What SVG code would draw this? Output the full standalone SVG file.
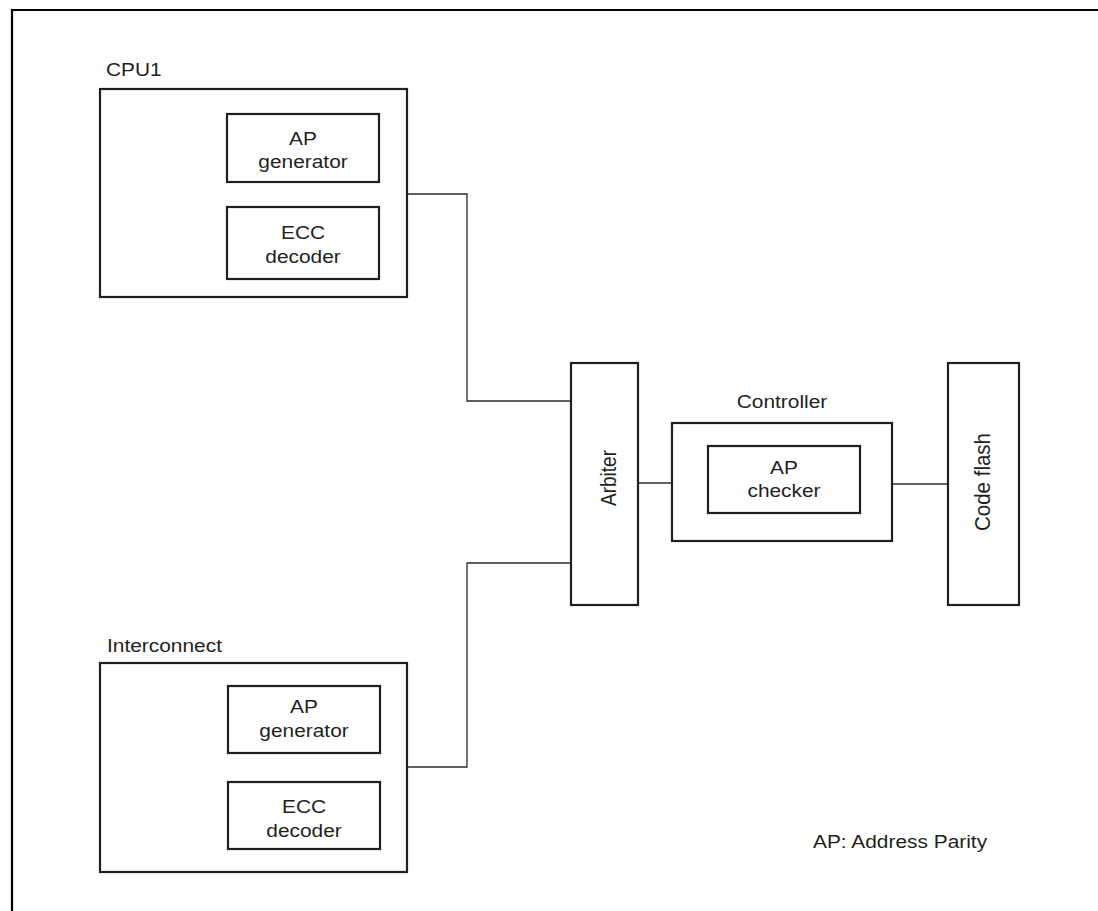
<svg xmlns="http://www.w3.org/2000/svg" width="1098" height="911" viewBox="0 0 1098 911">
  <style>
    .box { fill: #ffffff; stroke: #231f20; stroke-width: 2.2; }
    .wire { fill: none; stroke: #2e2e2e; stroke-width: 1.3; }
    .frame { fill: none; stroke: #000000; stroke-width: 2.2; }
    text { font-family: "Liberation Sans", Arial, sans-serif; font-size: 18.5px; fill: #231f20; }
    .c { text-anchor: middle; }
  </style>

  <rect x="0" y="0" width="1098" height="911" fill="#ffffff"/>
  <!-- page frame -->
  <path class="frame" d="M12,911 V10 H1098"/>

  <!-- connectors -->
  <g id="connectors">
    <path class="wire" d="M407,194 H467 V401 H571"/>
    <path class="wire" d="M407,767 H467 V563 H571"/>
    <path class="wire" d="M638,483 H672"/>
    <path class="wire" d="M892,484 H948"/>
  </g>

  <!-- CPU1 -->
  <g id="cpu1">
    <text transform="translate(106,76) scale(1.13,1)">CPU1</text>
    <rect class="box" x="100" y="89" width="307" height="208"/>
    <g id="cpu1-ap-generator">
      <rect class="box" x="227" y="114" width="152" height="68"/>
      <text class="c" transform="translate(303,145) scale(1.13,1)">AP</text>
      <text class="c" transform="translate(303,168) scale(1.13,1)">generator</text>
    </g>
    <g id="cpu1-ecc-decoder">
      <rect class="box" x="227" y="207" width="152" height="72"/>
      <text class="c" transform="translate(303,239) scale(1.13,1)">ECC</text>
      <text class="c" transform="translate(303,263) scale(1.13,1)">decoder</text>
    </g>
  </g>

  <!-- Interconnect -->
  <g id="interconnect">
    <text transform="translate(107,652) scale(1.13,1)">Interconnect</text>
    <rect class="box" x="100" y="663" width="307" height="209"/>
    <g id="ic-ap-generator">
      <rect class="box" x="228" y="686" width="152" height="67"/>
      <text class="c" transform="translate(304,713) scale(1.13,1)">AP</text>
      <text class="c" transform="translate(304,737) scale(1.13,1)">generator</text>
    </g>
    <g id="ic-ecc-decoder">
      <rect class="box" x="228" y="782" width="152" height="67"/>
      <text class="c" transform="translate(304,813) scale(1.13,1)">ECC</text>
      <text class="c" transform="translate(304,837) scale(1.13,1)">decoder</text>
    </g>
  </g>

  <!-- Arbiter -->
  <g id="arbiter">
    <rect class="box" x="571" y="363" width="67" height="242"/>
    <text class="c" style="font-size:19px" transform="translate(616,478) scale(1.14,1) rotate(-90)">Arbiter</text>
  </g>

  <!-- Controller -->
  <g id="controller">
    <text class="c" transform="translate(782,408) scale(1.13,1)">Controller</text>
    <rect class="box" x="672" y="423" width="220" height="118"/>
    <g id="ap-checker">
      <rect class="box" x="708" y="446" width="152" height="67"/>
      <text class="c" transform="translate(784,474) scale(1.13,1)">AP</text>
      <text class="c" transform="translate(784,497) scale(1.13,1)">checker</text>
    </g>
  </g>

  <!-- Code flash -->
  <g id="code-flash">
    <rect class="box" x="948" y="363" width="71" height="242"/>
    <text class="c" style="font-size:20.5px" transform="translate(990,482) scale(1.12,1) rotate(-90)">Code flash</text>
  </g>

  <!-- legend -->
  <g id="legend">
    <text transform="translate(813,848) scale(1.13,1)">AP: Address Parity</text>
  </g>
</svg>
